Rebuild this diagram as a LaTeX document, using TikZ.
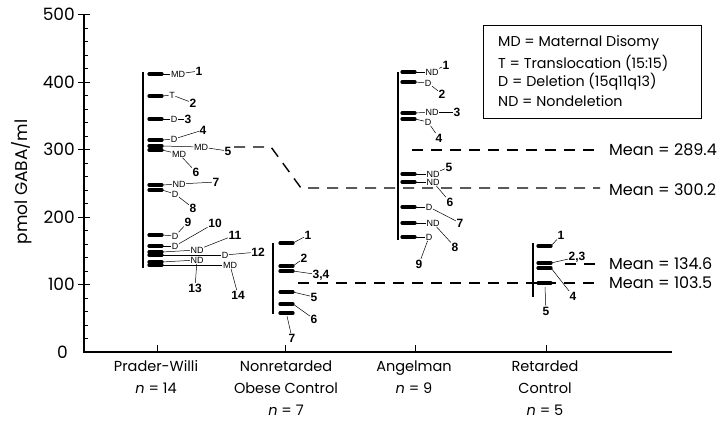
\documentclass[tikz,border=0pt]{standalone}
\usepackage{fontspec}
\setmainfont{Poppins}
\newfontfamily\numfont{Liberation Sans}
\tikzset{
  axisline/.style={line width=1.1pt},
  grpbar/.style={line width=1.1pt},
  blob/.style={line width=3.2pt, line cap=round},
  lead/.style={line width=0.5pt},
  meanline/.style={line width=1.4pt, dash pattern=on 11pt off 8pt},
  numlab/.style={font=\numfont\bfseries\fontsize{12}{12}\selectfont, inner sep=0.6pt},
  codelab/.style={font=\numfont\fontsize{9}{9}\selectfont, inner sep=0.5pt},
  catlab/.style={font=\fontsize{14.5}{22}\selectfont, align=center, anchor=north},
  ticklab/.style={font=\fontsize{17}{17}\selectfont, anchor=east, inner sep=0pt},
  meanlab/.style={font=\fontsize{16}{16}\selectfont, anchor=west, inner sep=0pt},
  legtext/.style={font=\fontsize{14.3}{14.3}\selectfont, anchor=west, inner sep=0pt},
}
\newcommand\datapt[7]{%
  \coordinate (#1b) at (#2,#3);
  \draw[blob] (#1b) -- ++(13,0) coordinate (#1e);
  \node[codelab] (#1c) at (#5) {#4};
  \draw[lead] (#1e) -- (#1c);
  \node[numlab] (#1n) at (#7) {#6};
  \draw[lead] (#1c) -- (#1n);
}
\newcommand\ctrlpt[5]{%
  \coordinate (#1b) at (#2,#3);
  \draw[blob] (#1b) -- ++(13,0) coordinate (#1e);
  \node[numlab] (#1n) at (#5) {#4};
  \draw[lead] (#1e) -- (#1n);
}
\begin{document}
\begin{tikzpicture}[x=1pt,y=-1pt]
\useasboundingbox (0,0) rectangle (727,431);
% axes
\coordinate (origin) at (84,352);
\coordinate (ytop) at (84,15);
\coordinate (xend) at (672,352);
\draw[axisline] (ytop) -- (origin) -- (xend);
\foreach \v in {0,20,...,500} {
  \draw[line width=0.8pt] (84,{352-0.6747*\v}) -- (88,{352-0.6747*\v});
}
\foreach \v in {100,200,300,400,500} {
  \draw[line width=1pt] (78,{352-0.6747*\v}) -- (90,{352-0.6747*\v});
  \node[ticklab] (t\v) at (75,{352-0.6747*\v}) {\v};
}
\node[ticklab] (t0) at (68,352) {0};
\node[rotate=90, font=\fontsize{17}{17}\selectfont] (ylab) at (22,182) {pmol GABA/ml};
% group ticks on x axis
\foreach \x in {157,285,415,546} {
  \draw[line width=0.8pt] (\x,352) -- (\x,345);
}
% category labels
\node[catlab] (cpw) at (156,357) {Prader-Willi\\\textit{n} = 14};
\node[catlab] (cnr) at (286,357) {Nonretarded\\Obese Control\\\textit{n} = 7};
\node[catlab] (can) at (414,357) {Angelman\\\textit{n} = 9};
\node[catlab] (crc) at (545,357) {Retarded\\Control\\\textit{n} = 5};
% legend
\node[draw, line width=1pt, minimum width=218pt, minimum height=93pt, anchor=north west, inner sep=0pt] (legend) at (483,25) {};
\node[legtext] (l1) at (498,43) {MD = Maternal Disomy};
\node[legtext] (l2) at (498,63) {T = Translocation (15:15)};
\node[legtext] (l3) at (498,82) {D = Deletion (15q11q13)};
\node[legtext] (l4) at (498,101) {ND = Nondeletion};
% group bars
\draw[grpbar] (143,72) coordinate (pwtop) -- (143,268) coordinate (pwbot);
\draw[grpbar] (273,243) coordinate (nrtop) -- (273,314) coordinate (nrbot);
\draw[grpbar] (398,72) coordinate (antop) -- (398,240) coordinate (anbot);
\draw[grpbar] (533,243) coordinate (rctop) -- (533,297) coordinate (rcbot);
% Prader-Willi
\datapt{pa}{149}{74}{MD}{178,74}{1}{199,71}
\datapt{pb}{149}{96}{T}{172,95}{2}{193,103}
\datapt{pc}{149}{119}{D}{174,119}{3}{188,119}
\datapt{pd}{149}{140}{D}{174,139}{4}{203,130}
\datapt{pe}{149}{146}{MD}{201,147}{5}{228,151}
\datapt{pf}{149}{150}{MD}{179,154}{6}{196,172}
\datapt{pg}{149}{185}{ND}{179,184}{7}{216,182}
\datapt{ph}{149}{190}{D}{175,194}{8}{193,208}
\datapt{pi}{149}{235}{D}{175,236}{9}{188,222}
\datapt{pj}{149}{246}{D}{175,246}{10}{215,223}
\datapt{pk}{149}{252}{ND}{197,250}{11}{235,235}
\datapt{pl}{149}{255}{D}{225,255}{12}{258,252}
\datapt{pm}{149}{262}{ND}{197,260}{13}{195,288}
\datapt{pn}{149}{265}{MD}{230,265}{14}{238,295}
% Nonretarded obese control
\ctrlpt{na}{280}{243}{1}{308,235}
\ctrlpt{nb}{280}{266}{2}{304,258}
\ctrlpt{nc}{280}{271}{3,4}{321,275}
\ctrlpt{nd}{280}{292}{5}{314,297}
\ctrlpt{ne}{280}{304}{6}{314,319}
\coordinate (nfb) at (280,313);
\draw[blob] (nfb) -- ++(13,0) coordinate (nfe);
\coordinate (nfm) at (287,316);
\node[numlab] (nfn) at (292,338) {7};
\draw[lead] (nfm) -- (nfn);
% Angelman
\datapt{aa}{402}{72}{ND}{432,72}{1}{446,65}
\datapt{ab}{402}{82}{D}{428,83}{2}{442,94}
\datapt{ac}{402}{113}{ND}{432,112}{3}{457,112}
\datapt{ad}{402}{119}{D}{428,122}{4}{439,138}
\datapt{ae}{402}{174}{ND}{433,174}{5}{449,167}
\datapt{af}{402}{182}{ND}{433,182}{6}{450,202}
\datapt{ag}{402}{207}{D}{429,207}{7}{460,223}
\datapt{ah}{402}{223}{ND}{433,223}{8}{455,247}
\datapt{ai}{402}{237}{D}{429,237}{9}{419,264}
% Retarded control
\ctrlpt{ra}{538}{246}{1}{561,235}
\ctrlpt{rb}{538}{263}{2,3}{577,257}
\coordinate (rcb) at (538,268);
\draw[blob] (rcb) -- ++(13,0) coordinate (rce);
\node[numlab] (rdn) at (573,296) {4};
\draw[lead] (rce) -- (rdn);
\coordinate (reb) at (538,283);
\draw[blob] (reb) -- ++(13,0) coordinate (ree);
\coordinate (rem) at (545,287);
\node[numlab] (ren) at (546,311) {5};
\draw[lead] (rem) -- (ren);
% mean lines
\node[meanlab] (m1) at (609,150) {Mean = 289.4};
\node[meanlab] (m2) at (609,190) {Mean = 300.2};
\node[meanlab] (m3) at (609,264) {Mean = 134.6};
\node[meanlab] (m4) at (609,283) {Mean = 103.5};
\coordinate (m1s) at (412,150);
\draw[meanline] (m1s) -- (600,150) coordinate (m1e);
\coordinate (m2s) at (234,147);
\coordinate (m2a) at (271,147);
\coordinate (m2b) at (301,188);
\draw[meanline] (m2s) -- (m2a) -- (m2b) -- (600,188) coordinate (m2e);
\coordinate (m3s) at (565,264);
\draw[meanline] (m3s) -- (600,264) coordinate (m3e);
\coordinate (m4s) at (298,283);
\draw[meanline] (m4s) -- (600,283) coordinate (m4e);
\end{tikzpicture}
\end{document}
